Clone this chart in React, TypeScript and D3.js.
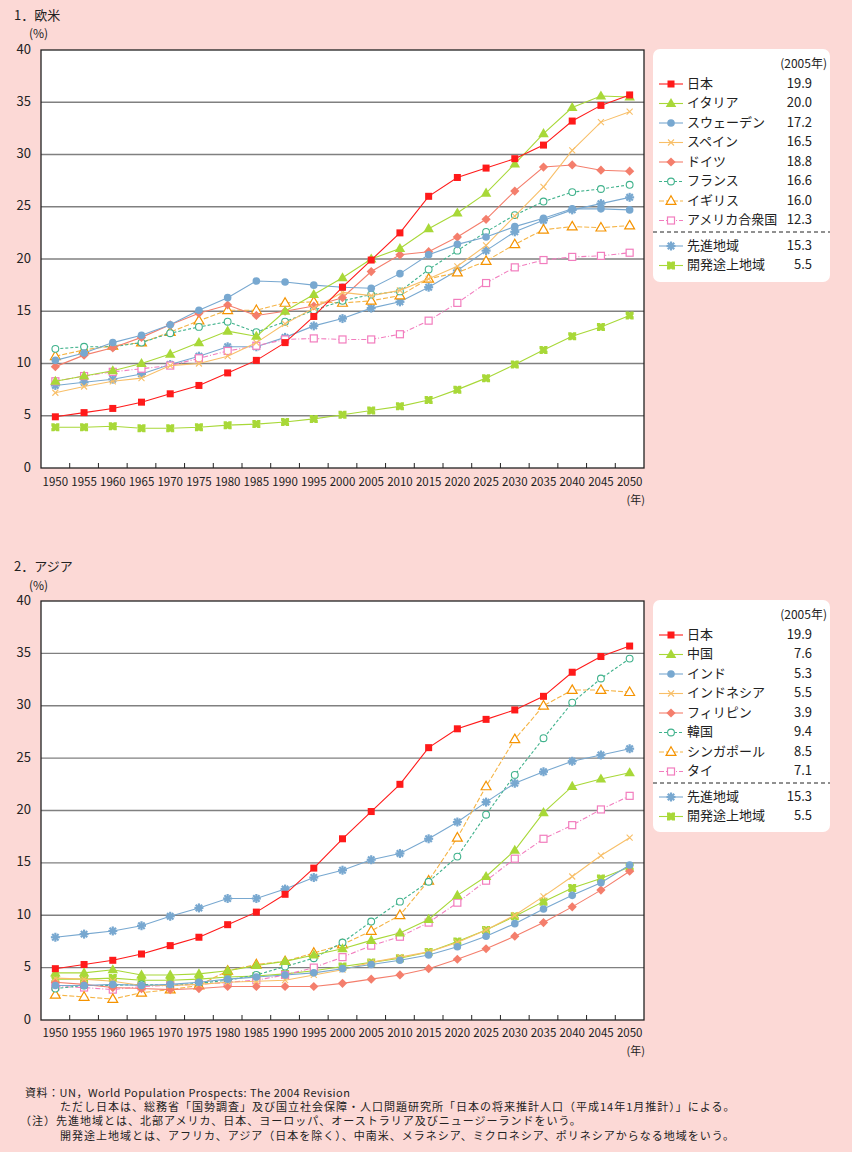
import React from "react";
import * as d3 from "d3";

const years = ["1950","1955","1960","1965","1970","1975","1980","1985","1990","1995","2000","2005","2010","2015","2020","2025","2030","2035","2040","2045","2050"];
const yTicks = [0, 5, 10, 15, 20, 25, 30, 35, 40];

// 欧米
const japan = [4.9,5.3,5.7,6.3,7.1,7.9,9.1,10.3,12.0,14.5,17.3,19.9,22.5,26.0,27.8,28.7,29.6,30.9,33.2,34.7,35.7];
const italy = [8.3,8.8,9.3,10.0,10.9,12.0,13.1,12.6,15.0,16.6,18.2,20.0,21.0,22.9,24.4,26.3,29.1,32.0,34.5,35.6,35.5];
const sweden = [10.3,11.0,12.0,12.7,13.7,15.1,16.3,17.9,17.8,17.5,17.3,17.2,18.6,20.4,21.4,22.1,23.1,23.9,24.8,24.8,24.7];
const spain = [7.2,7.8,8.3,8.6,9.8,10.0,10.7,12.0,13.8,15.3,16.8,16.5,17.0,18.1,19.3,21.3,24.1,26.9,30.4,33.1,34.1];
const germany = [9.7,10.8,11.5,12.5,13.7,14.8,15.6,14.6,15.0,15.5,16.3,18.8,20.4,20.7,22.1,23.8,26.5,28.8,29.0,28.5,28.4];
const france = [11.4,11.6,11.6,12.0,12.9,13.5,14.0,13.0,14.0,15.1,16.0,16.6,16.9,19.0,20.8,22.6,24.2,25.5,26.4,26.7,27.1];
const uk = [10.7,11.3,11.7,12.0,13.0,14.1,15.1,15.1,15.8,15.9,15.8,16.0,16.5,18.1,18.7,19.8,21.4,22.8,23.1,23.0,23.2];
const usa = [8.3,8.8,9.2,9.5,9.8,10.5,11.2,11.7,12.3,12.4,12.3,12.3,12.8,14.1,15.8,17.7,19.2,19.9,20.2,20.3,20.6];
const developed = [7.9,8.2,8.5,9.0,9.9,10.7,11.6,11.6,12.5,13.6,14.3,15.3,15.9,17.3,18.9,20.8,22.6,23.7,24.7,25.3,25.9];
const developing = [3.9,3.9,4.0,3.8,3.8,3.9,4.1,4.2,4.4,4.7,5.1,5.5,5.9,6.5,7.5,8.6,9.9,11.3,12.6,13.5,14.6];

// アジア
const china = [4.5,4.5,4.8,4.3,4.3,4.4,4.7,5.2,5.6,6.2,6.8,7.6,8.3,9.6,11.9,13.7,16.2,19.8,22.3,23.0,23.6];
const india = [3.3,3.3,3.4,3.3,3.4,3.6,3.9,4.1,4.3,4.5,4.9,5.3,5.7,6.2,7.0,8.0,9.2,10.6,11.9,13.1,14.8];
const indonesia = [4.0,3.9,3.7,3.3,3.3,3.4,3.6,3.7,3.8,4.3,4.8,5.5,6.0,6.5,7.4,8.6,10.0,11.8,13.7,15.7,17.4];
const philippines = [3.6,3.4,3.1,3.0,2.9,3.0,3.2,3.2,3.2,3.2,3.5,3.9,4.3,4.9,5.8,6.8,8.0,9.3,10.8,12.4,14.2];
const korea = [3.0,3.3,3.3,3.4,3.3,3.5,3.8,4.3,5.1,5.9,7.4,9.4,11.3,13.2,15.6,19.6,23.4,26.9,30.3,32.6,34.5];
const singapore = [2.4,2.2,2.0,2.6,2.9,3.3,4.7,5.3,5.6,6.4,7.2,8.5,10.0,13.3,17.4,22.3,26.8,30.0,31.5,31.5,31.3];
const thailand = [3.2,3.1,2.9,3.2,3.3,3.4,3.6,3.8,4.3,5.0,6.0,7.1,7.95,9.3,11.2,13.3,15.4,17.3,18.6,20.1,21.4];

const westNames = ["日本","イタリア","スウェーデン","スペイン","ドイツ","フランス","イギリス","アメリカ合衆国","先進地域","開発途上地域"];
const westValues = [japan, italy, sweden, spain, germany, france, uk, usa, developed, developing];
const west2005 = ["19.9","20.0","17.2","16.5","18.8","16.6","16.0","12.3","15.3","5.5"];

const asiaNames = ["日本","中国","インド","インドネシア","フィリピン","韓国","シンガポール","タイ","先進地域","開発途上地域"];
const asiaValues = [japan, china, india, indonesia, philippines, korea, singapore, thailand, developed, developing];
const asia2005 = ["19.9","7.6","5.3","5.5","3.9","9.4","8.5","7.1","15.3","5.5"];

type Style = { color: string; dash?: string; marker: string; mfill: string; mstroke?: string };
const styles: Style[] = [
  { color: "#FF1A1A", marker: "square", mfill: "#FF1A1A" },
  { color: "#A8D838", marker: "triangle", mfill: "#A8D838" },
  { color: "#78A8D0", marker: "circle", mfill: "#78A8D0" },
  { color: "#F8BF68", marker: "x", mfill: "none", mstroke: "#F8BF68" },
  { color: "#F47E6C", marker: "diamond", mfill: "#F47E6C" },
  { color: "#40B28C", dash: "3,2", marker: "circle", mfill: "#fff", mstroke: "#40B28C" },
  { color: "#F5B445", dash: "5,2", marker: "triangle", mfill: "#fff", mstroke: "#F59300" },
  { color: "#F27DBE", dash: "5,2,1,2", marker: "square", mfill: "#fff", mstroke: "#F27DBE" },
  { color: "#78A8D0", marker: "asterisk", mfill: "#78A8D0" },
  { color: "#A8D838", marker: "devsq", mfill: "#A8D838" },
];

const FONT = "'Noto Sans CJK JP', 'Noto Sans', sans-serif";
const BG = "#FCD9D6";

function Marker({ s, x, y }: { s: Style; x: number; y: number }) {
  const t = `translate(${x},${y})`;
  if (s.marker === "square") {
    return <rect x={x - 3.5} y={y - 3.5} width={7} height={7} fill={s.mfill} stroke={s.mstroke || "none"} strokeWidth={1.2} />;
  }
  if (s.marker === "triangle") {
    const p = d3.symbol().type(d3.symbolTriangle).size(s.mfill === "#fff" ? 42 : 48)();
    return <path d={p || ""} transform={`translate(${x},${y + 0.5})`} fill={s.mfill} stroke={s.mstroke || "none"} strokeWidth={1.2} />;
  }
  if (s.marker === "circle") {
    return <circle cx={x} cy={y} r={s.mfill === "#fff" ? 3.4 : 3.8} fill={s.mfill} stroke={s.mstroke || "none"} strokeWidth={1.1} />;
  }
  if (s.marker === "x") {
    return <path d="M-3,-3L3,3M-3,3L3,-3" transform={t} stroke={s.mstroke} strokeWidth={1.1} fill="none" />;
  }
  if (s.marker === "diamond") {
    return <path d="M0,-4.6L4.6,0L0,4.6L-4.6,0Z" transform={t} fill={s.mfill} />;
  }
  if (s.marker === "asterisk") {
    return (
      <g transform={t} stroke={s.mfill} strokeWidth={2.2} strokeLinecap="butt">
        <line x1={-4.5} x2={4.5} y1={0} y2={0} />
        <line x1={0} x2={0} y1={-4.5} y2={4.5} />
        <line x1={-3.2} x2={3.2} y1={-3.2} y2={3.2} />
        <line x1={-3.2} x2={3.2} y1={3.2} y2={-3.2} />
      </g>
    );
  }
  // devsq: notched square
  return <path d="M-4,-4L-1,-4L0,-3L1,-4L4,-4L4,-1L3,0L4,1L4,4L1,4L0,3L-1,4L-4,4L-4,1L-3,0L-4,-1Z" transform={t} fill={s.mfill} />;
}

function Chart({ top, bottom, title, values, names, vals2005, legendTop, legendBottom, titleY, pctY, nenY, tickY }: any) {
  const left = 41, right = 644;
  const x = d3.scaleBand().domain(years).range([left, right]);
  const bw = x.bandwidth();
  const cx = (yr: string) => (x(yr) as number) + bw / 2;
  const y = d3.scaleLinear().domain([0, 40]).range([bottom, top]);
  const line = d3.line<number>().x((_, i) => cx(years[i])).y((d) => y(d));
  const order = d3.range(values.length).reverse();
  const rowY = (i: number) => legendTop + 35 + i * 19.5 + (i >= 8 ? 6 : 0);
  return (
    <g>
      <text x={14} y={titleY} fontSize={13} fontFamily={FONT} dominantBaseline="middle" fill="#222">{title}</text>
      <text x={29} y={pctY} fontSize={12} fontFamily={FONT} dominantBaseline="middle" fill="#222">(%)</text>
      <rect x={left} y={top} width={right - left} height={bottom - top} fill="#fff" />
      {yTicks.filter((t) => t > 0 && t < 40).map((t) => (
        <line key={t} x1={left} x2={right} y1={y(t)} y2={y(t)} stroke="#808080" strokeWidth={1.3} />
      ))}
      {yTicks.map((t) => (
        <text key={t} x={31} y={y(t)} fontSize={13} fontFamily={FONT} textAnchor="end" dominantBaseline="middle" fill="#222">{t}</text>
      ))}
      {years.slice(1).map((yr) => (
        <line key={yr} x1={x(yr)} x2={x(yr)} y1={bottom} y2={bottom - 5} stroke="#222" strokeWidth={1} />
      ))}
      {years.map((yr) => (
        <text key={yr} x={cx(yr)} y={tickY} fontSize={11.5} fontFamily={FONT} textAnchor="middle" dominantBaseline="middle" fill="#222">{yr}</text>
      ))}
      <text x={645} y={nenY} fontSize={11} fontFamily={FONT} textAnchor="end" dominantBaseline="middle" fill="#222">(年)</text>
      {order.map((i: number) => {
        const s = styles[i];
        return (
          <g key={i}>
            <path d={line(values[i]) || ""} fill="none" stroke={s.color} strokeWidth={1.1} strokeDasharray={s.dash} />
            {values[i].map((v: number, j: number) => (
              <Marker key={j} s={s} x={cx(years[j])} y={y(v)} />
            ))}
          </g>
        );
      })}
      <rect x={left} y={top} width={right - left} height={bottom - top} fill="none" stroke="#222" strokeWidth={1.3} />
      {/* legend */}
      <rect x={653} y={legendTop} width={177} height={legendBottom - legendTop} rx={7} fill="#fff" />
      <text x={827} y={legendTop + 16} fontSize={12} fontFamily={FONT} textAnchor="end" dominantBaseline="middle" fill="#222">(2005年)</text>
      {names.map((n: string, i: number) => {
        const s = styles[i];
        const ry = rowY(i);
        return (
          <g key={n}>
            <line x1={659} x2={683} y1={ry} y2={ry} stroke={s.color} strokeWidth={1.1} strokeDasharray={s.dash} />
            <Marker s={s} x={671} y={ry} />
            <text x={687} y={ry} fontSize={13} fontFamily={FONT} dominantBaseline="middle" fill="#222">{n}</text>
            <text x={812} y={ry} fontSize={13} fontFamily={FONT} textAnchor="end" dominantBaseline="middle" fill="#222">{vals2005[i]}</text>
          </g>
        );
      })}
      <line x1={653} x2={830} y1={rowY(7) + 11.5} y2={rowY(7) + 11.5} stroke="#222" strokeWidth={1} strokeDasharray="4,3" />
    </g>
  );
}

export default function App() {
  const foot = [
    { x: 25, y: 1094, ls: 0.5, t: "資料：UN，World Population Prospects: The 2004 Revision" },
    { x: 60, y: 1108, ls: 1.0, t: "ただし日本は、総務省「国勢調査」及び国立社会保障・人口問題研究所「日本の将来推計人口（平成14年1月推計）」による。" },
    { x: 20, y: 1122, ls: 1.0, t: "（注）先進地域とは、北部アメリカ、日本、ヨーロッパ、オーストラリア及びニュージーランドをいう。" },
    { x: 60, y: 1137, ls: 1.0, t: "開発途上地域とは、アフリカ、アジア（日本を除く）、中南米、メラネシア、ミクロネシア、ポリネシアからなる地域をいう。" },
  ];
  return (
    <svg width={852} height={1152} style={{ position: "absolute", left: 0, top: 0, display: "block" }}>
      <rect width={852} height={1152} fill={BG} />
      <Chart top={50} bottom={468} title="1．欧米" values={westValues} names={westNames} vals2005={west2005}
        legendTop={49} legendBottom={282} titleY={16} pctY={35} nenY={501} tickY={483} />
      <Chart top={601} bottom={1020} title="2．アジア" values={asiaValues} names={asiaNames} vals2005={asia2005}
        legendTop={600} legendBottom={832} titleY={567} pctY={587} nenY={1052} tickY={1034} />
      {foot.map((f, i) => (
        <text key={i} x={f.x} y={f.y} fontSize={11} letterSpacing={f.ls} fontFamily={FONT} dominantBaseline="middle" fill="#222">{f.t}</text>
      ))}
    </svg>
  );
}
